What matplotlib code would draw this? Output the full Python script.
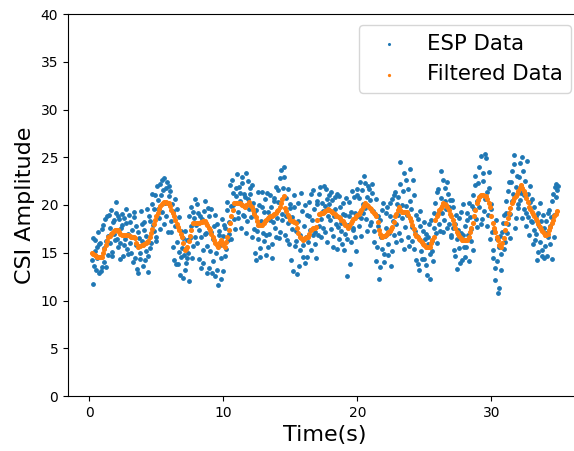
import numpy as np
import matplotlib
matplotlib.use("Agg")
import matplotlib.pyplot as plt

# time axis, samples every 0.1 s (second set offset by 0.05 s)
time = np.round(np.arange(0.2, 34.95, 0.1), 2)
time_b = np.round(np.arange(0.25, 35.0, 0.1), 2)

# raw CSI amplitude from the ESP board
esp_data = [
    14.2, 11.7, 16.3, 13.2, 15.6, 12.9, 16.0, 13.5,
    17.9, 14.0, 16.2, 18.9, 14.8, 17.6, 19.5, 15.1, 18.4, 16.3,
    20.3, 15.6, 18.5, 16.0, 17.9, 14.7, 18.6, 19.6, 15.4, 17.0,
    18.2, 15.0, 16.7, 19.3, 14.4, 17.8, 12.9, 16.5, 14.3, 18.0,
    13.6, 17.4, 15.2, 19.6, 14.7, 18.3, 16.0, 20.1, 17.3, 21.0,
    16.7, 20.5, 18.6, 22.2, 19.3, 21.6, 22.8, 18.9, 22.4, 20.9,
    21.5, 17.2, 19.4, 14.2, 20.6, 16.1, 13.8, 18.7, 14.6, 15.5,
    12.4, 17.3, 13.9, 14.4, 18.9, 16.5, 19.8, 15.7, 18.6, 20.6,
    16.0, 19.2, 17.4, 13.4, 18.5, 15.3, 20.4, 17.1, 12.9, 18.8,
    15.2, 19.6, 14.1, 17.8, 12.6, 18.0, 11.6, 16.9, 14.4, 18.5,
    13.1, 17.6, 15.4, 19.5, 17.0, 22.1, 16.4, 21.3, 18.5, 20.9,
    23.2, 19.3, 21.3, 17.6, 22.3, 18.8, 20.8, 17.1, 22.5, 19.6,
    21.8, 16.6, 20.2, 19.2, 14.2, 17.3, 21.4, 15.5, 18.3, 19.8,
    16.2, 20.6, 14.8, 19.3, 17.0, 21.0, 15.9, 18.2, 20.4, 16.7,
    18.6, 21.6, 17.2, 23.7, 19.1, 22.9, 16.9, 20.7, 18.1, 15.9,
    20.1, 17.5, 13.1, 19.8, 16.2, 12.8, 18.3, 15.3, 21.3, 14.6,
    17.8, 13.9, 19.0, 16.1, 20.3, 15.3, 18.4, 21.6, 17.2, 14.5,
    20.1, 17.8, 21.9, 16.6, 19.4, 22.0, 17.2, 20.6, 18.8, 21.0,
    17.5, 20.5, 15.6, 19.6, 18.0, 21.2, 16.4, 19.8, 17.3, 20.2,
    15.3, 19.0, 12.6, 17.9, 20.3, 16.1, 21.5, 17.4, 19.2, 15.2,
    21.0, 17.8, 22.4, 18.6, 20.1, 23.0, 19.7, 17.3, 22.0, 20.5,
    18.2, 21.3, 16.1, 19.1, 14.1, 17.8, 12.3, 18.4, 15.4, 20.2,
    14.0, 17.6, 19.8, 15.9, 18.8, 13.6, 20.6, 16.9, 21.4, 18.0,
    20.8, 17.1, 24.5, 18.6, 21.5, 15.4, 22.6, 19.0, 16.7, 23.8,
    19.6, 16.2, 21.0, 17.3, 14.2, 18.5, 13.2, 19.4, 16.1, 17.3,
    14.3, 17.0, 12.7, 16.6, 14.9, 18.4, 15.2, 17.6, 20.2, 16.0,
    21.7, 18.0, 23.6, 19.2, 17.2, 21.8, 19.6, 22.4, 18.0, 20.5,
    16.6, 19.8, 15.3, 18.0, 13.3, 17.4, 15.5, 19.3, 14.2, 16.9,
    17.8, 15.6, 19.2, 14.1, 18.7, 16.2, 21.0, 19.6, 23.0, 17.7,
    22.3, 19.8, 25.1, 18.5, 23.4, 20.6, 24.9, 17.8, 21.8, 16.4,
    19.6, 14.4, 17.4, 12.1, 16.4, 10.8, 15.6, 13.2, 17.2, 19.0,
    16.1, 20.4, 18.0, 22.4, 19.1, 23.6, 21.2, 25.2, 18.6, 23.0,
    19.7, 24.4, 21.3, 25.0, 19.6, 22.5, 17.8, 21.2, 16.9, 20.3,
    18.2, 15.9, 19.8, 17.0, 14.2, 19.2, 16.1, 18.3, 14.7, 17.6,
    15.7, 18.3, 16.6, 19.5, 17.8, 14.3, 21.2, 19.0, 22.2, 21.6,
]

esp_data_b = [
    16.5, 13.6, 15.2, 14.5, 17.2, 15.9, 13.1, 17.5,
    15.5, 18.5, 13.5, 16.8, 19.0, 16.0, 14.7, 18.2, 17.0, 19.2,
    16.4, 18.9, 14.3, 17.6, 19.1, 15.8, 16.4, 18.1, 14.9, 19.0,
    16.0, 17.4, 14.0, 18.7, 15.8, 13.3, 17.2, 15.0, 19.4, 16.2,
    18.2, 14.2, 16.8, 13.0, 18.9, 15.5, 21.2, 17.9, 19.6, 16.2,
    22.0, 19.6, 17.5, 21.0, 22.6, 18.0, 20.2, 21.8, 17.2, 22.0,
    18.3, 20.1, 15.6, 17.8, 13.8, 19.6, 15.1, 12.7, 17.3, 16.5,
    14.8, 13.2, 16.3, 15.0, 12.0, 17.8, 14.5, 19.3, 16.7, 17.9,
    20.1, 14.3, 18.9, 16.6, 13.9, 19.4, 17.0, 15.7, 19.7, 13.4,
    17.2, 12.9, 16.4, 19.0, 15.0, 13.2, 17.3, 15.8, 12.3, 16.8,
    17.9, 14.7, 20.3, 16.3, 18.2, 19.9, 22.6, 20.0, 17.5, 21.8,
    18.6, 21.9, 20.4, 22.9, 19.0, 21.1, 23.4, 18.3, 20.6, 21.2,
    18.7, 22.1, 17.5, 15.0, 19.5, 16.4, 20.0, 14.6, 21.4, 17.1,
    19.3, 16.9, 21.3, 15.6, 18.4, 19.8, 14.5, 20.7, 17.6, 21.9,
    20.3, 16.5, 22.8, 18.4, 21.8, 24.0, 18.9, 16.3, 21.7, 19.7,
    14.2, 18.7, 21.0, 15.7, 17.3, 20.2, 13.6, 16.9, 19.4, 15.8,
    20.0, 16.6, 14.6, 18.8, 17.4, 21.1, 16.9, 19.6, 15.9, 20.4,
    16.9, 21.2, 18.5, 20.2, 17.6, 19.9, 21.7, 16.1, 20.1, 18.4,
    21.4, 16.8, 18.9, 20.8, 15.4, 17.7, 20.9, 18.1, 15.9, 19.1,
    17.0, 20.7, 16.4, 18.8, 13.8, 19.3, 17.6, 20.8, 16.6, 21.7,
    18.9, 20.7, 16.8, 21.6, 19.2, 22.3, 18.5, 20.8, 21.7, 17.9,
    22.2, 19.4, 17.3, 20.6, 15.6, 18.9, 13.5, 16.6, 19.5, 14.9,
    16.8, 19.2, 14.8, 17.1, 20.2, 15.2, 18.3, 21.0, 16.1, 20.1,
    19.0, 22.2, 16.3, 20.0, 23.3, 17.7, 19.9, 21.7, 15.7, 20.4,
    17.7, 22.6, 15.4, 19.0, 16.8, 13.8, 17.8, 15.2, 14.3, 18.2,
    16.4, 13.7, 15.9, 18.0, 12.2, 16.2, 14.1, 19.2, 17.1, 21.4,
    19.3, 17.3, 20.7, 22.6, 18.4, 20.4, 17.6, 21.2, 19.8, 16.9,
    20.5, 17.6, 14.7, 19.0, 16.4, 18.6, 13.9, 17.1, 20.1, 15.6,
    14.6, 18.4, 16.9, 20.2, 17.5, 19.9, 15.3, 22.1, 18.5, 20.4,
    24.0, 20.9, 18.0, 22.5, 19.4, 25.3, 21.4, 19.0, 23.5, 20.1,
    17.2, 15.3, 13.4, 18.4, 14.1, 11.3, 16.8, 14.9, 18.1, 15.4,
    19.2, 17.1, 21.5, 16.5, 22.4, 20.4, 24.3, 17.6, 21.9, 20.1,
    22.9, 20.5, 18.6, 23.6, 21.0, 19.2, 24.6, 18.7, 22.0, 18.3,
    20.6, 17.4, 16.3, 18.9, 15.1, 17.8, 20.2, 15.3, 19.0, 14.4,
    17.1, 14.7, 19.2, 15.9, 18.7, 20.4, 16.6, 21.9, 20.8, 22.0,
]

# smoothed amplitude
filtered_data = [
    15.0, 14.9, 14.8, 14.7, 14.6, 14.6, 14.6, 14.6,
    15.0, 15.4, 15.8, 16.2, 16.6, 16.8, 17.0, 17.1, 17.3, 17.4,
    17.4, 17.4, 17.2, 17.0, 16.9, 16.9, 16.9, 16.9, 16.9, 16.9,
    16.8, 16.7, 16.7, 16.6, 16.5, 16.0, 15.6, 15.7, 15.7, 15.8,
    15.8, 15.9, 16.0, 16.1, 16.2, 16.6, 17.1, 17.5, 18.0, 18.4,
    18.8, 19.2, 19.6, 19.9, 20.1, 20.2, 20.3, 20.3, 20.2, 20.2,
    19.9, 19.5, 19.2, 18.8, 18.4, 18.0, 17.7, 17.4, 17.0, 16.7,
    16.0, 15.3, 15.4, 15.6, 16.2, 16.8, 17.4, 18.1, 18.1, 18.1,
    18.1, 18.1, 18.1, 18.2, 18.2, 18.3, 18.3, 18.1, 17.9, 17.6,
    17.4, 17.0, 16.7, 16.3, 16.0, 15.8, 15.6, 16.0, 16.3, 16.0,
    15.8, 15.6, 16.1, 16.7, 17.4, 18.1, 18.8, 19.5, 20.2, 20.2,
    20.2, 20.2, 20.2, 20.1, 20.0, 19.9, 19.8, 20.0, 20.1, 20.3,
    20.0, 19.8, 19.5, 19.1, 18.7, 18.3, 17.9, 17.9, 17.9, 17.9,
    18.1, 18.3, 18.4, 18.6, 18.7, 18.8, 18.9, 19.0, 19.1, 19.2,
    19.4, 19.5, 19.8, 20.2, 20.6, 20.9, 19.7, 19.4, 19.0, 18.7,
    18.4, 18.3, 18.3, 18.2, 18.1, 17.6, 17.1, 16.7, 16.5, 16.3,
    16.4, 16.5, 16.6, 16.7, 17.0, 17.4, 17.5, 17.6, 17.6, 17.7,
    18.4, 19.1, 19.1, 19.2, 19.2, 19.3, 19.4, 19.5, 19.6, 19.5,
    19.4, 19.3, 19.2, 19.1, 18.9, 18.8, 18.7, 18.6, 18.4, 18.3,
    18.1, 17.9, 17.8, 17.6, 17.8, 18.1, 18.3, 18.5, 18.6, 18.8,
    19.0, 19.1, 19.3, 19.5, 19.8, 20.0, 20.2, 20.0, 19.9, 19.7,
    19.6, 19.4, 19.2, 19.1, 18.9, 18.2, 17.4, 17.0, 16.7, 16.8,
    16.8, 16.9, 17.0, 17.2, 17.3, 17.5, 17.7, 18.2, 18.8, 19.1,
    19.5, 19.8, 19.5, 19.3, 19.3, 19.3, 19.3, 19.3, 19.0, 18.6,
    18.3, 17.9, 17.5, 17.0, 16.8, 16.6, 16.4, 16.3, 16.1, 15.9,
    15.8, 15.6, 15.6, 15.6, 15.6, 16.0, 16.3, 16.7, 18.4, 18.8,
    19.1, 19.5, 19.7, 19.9, 20.2, 20.1, 20.0, 19.8, 19.5, 19.1,
    18.8, 18.4, 18.0, 17.6, 17.2, 17.0, 16.8, 16.5, 16.3, 16.3,
    16.3, 16.3, 16.3, 16.7, 17.2, 17.6, 18.1, 18.8, 19.5, 20.2,
    20.5, 20.8, 21.0, 21.0, 21.0, 20.9, 20.9, 20.6, 20.2, 19.8,
    18.8, 18.1, 17.6, 17.2, 16.7, 16.3, 15.8, 15.6, 16.0, 16.5,
    17.4, 18.1, 18.6, 19.2, 19.7, 20.2, 20.4, 20.7, 20.9, 21.2,
    21.5, 21.8, 22.1, 21.8, 21.5, 21.2, 20.7, 20.3, 19.8, 19.6,
    19.3, 19.1, 18.8, 18.5, 18.3, 18.0, 17.7, 17.5, 17.3, 17.1,
    16.9, 16.9, 17.0, 17.4, 17.7, 18.1, 18.4, 18.8, 19.1, 19.4,
]

fig = plt.figure(figsize=(5.74, 4.51), dpi=100)
# axes run past the right edge of the figure, like the cropped original
ax = fig.add_axes([68 / 574, 55 / 451, 540 / 574, 382 / 451])

ax.scatter(np.concatenate([time, time_b]), esp_data + esp_data_b,
           s=6, color='tab:blue', label='ESP Data')
ax.scatter(time, filtered_data, s=7, color='tab:orange', label='Filtered Data')

ax.set_xlim(-1.6, -1.6 + 540 / 13.4)
ax.set_ylim(0, 40)
ax.set_xticks([0, 10, 20, 30])
ax.set_yticks(range(0, 41, 5))
ax.tick_params(labelsize=10)

ax.set_xlabel('Time(s)', fontsize=16)
ax.xaxis.set_label_coords(257 / 540, -0.075)
ax.set_ylabel('CSI Amplitude', fontsize=16)

ax.legend(loc='upper right', fontsize=15.3, markerscale=0.5,
          bbox_to_anchor=(571 / 574, 426 / 451),
          bbox_transform=fig.transFigure, borderaxespad=0)

fig.savefig('out.png', dpi=100)
